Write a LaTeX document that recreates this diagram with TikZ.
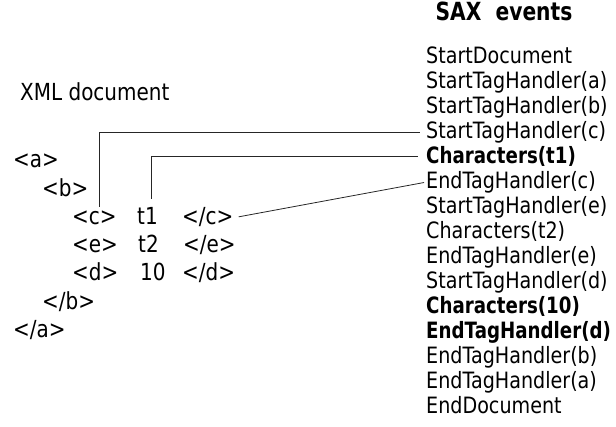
\documentclass[tikz,border=0pt]{standalone}
\usepackage{fontspec}
\setmainfont{DejaVu Sans}[FakeStretch=0.85, BoldFeatures={FakeStretch=0.81}]
\begin{document}
\begin{tikzpicture}[x=1pt,y=1pt,
  ev/.style={anchor=mid west, inner sep=0pt, font=\fontsize{22.5}{26}\selectfont},
  evb/.style={anchor=mid west, inner sep=0pt, font=\fontsize{22.5}{26}\selectfont\bfseries},
  xm/.style={anchor=mid west, inner sep=0pt, font=\fontsize{23.5}{28}\selectfont},
  link/.style={draw=black!85, line width=0.8pt}]
\useasboundingbox (0,0) rectangle (616,427);

% headings
\node[anchor=mid, inner sep=0pt, font=\fontsize{25}{29}\selectfont\bfseries] (saxtitle) at (504,409) {SAX\ \ events};
\node[xm] (xmltitle) at (20,329) {XML document};

% SAX event list
\node[ev]  (e0)  at (426,366) {StartDocument};
\node[ev]  (e1)  at (426,341) {StartTagHandler(a)};
\node[ev]  (e2)  at (426,316) {StartTagHandler(b)};
\node[ev]  (e3)  at (426,291) {StartTagHandler(c)};
\node[evb] (e4)  at (426,266) {Characters(t1)};
\node[ev]  (e5)  at (426,241) {EndTagHandler(c)};
\node[ev]  (e6)  at (426,216) {StartTagHandler(e)};
\node[ev]  (e7)  at (426,191) {Characters(t2)};
\node[ev]  (e8)  at (426,166) {EndTagHandler(e)};
\node[ev]  (e9)  at (426,141) {StartTagHandler(d)};
\node[evb] (e10) at (426,116) {Characters(10)};
\node[evb] (e11) at (426,91)  {EndTagHandler(d)};
\node[ev]  (e12) at (426,66)  {EndTagHandler(b)};
\node[ev]  (e13) at (426,41)  {EndTagHandler(a)};
\node[ev]  (e14) at (426,16)  {EndDocument};

% XML document
\node[xm] (oa)  at (13,262)    {<a>};
\node[xm] (ob)  at (42,233.7)  {<b>};
\node[xm] (oc)  at (72,205.4)  {<c>};
\node[xm] (t1)  at (137,205.4) {t1};
\node[xm] (cc)  at (182,205.4) {</c>};
\node[xm] (oe)  at (72,177)    {<e>};
\node[xm] (t2)  at (138,177)   {t2};
\node[xm] (ce)  at (183,177)   {</e>};
\node[xm] (od)  at (72,149)    {<d>};
\node[xm] (t10) at (140,149)   {10};
\node[xm] (cd)  at (182,149)   {</d>};
\node[xm] (cb)  at (42,120.5)  {</b>};
\node[xm] (ca)  at (13,92)     {</a>};

% connectors
\coordinate (pc) at (99,220);
\coordinate (pt) at (151,228);
\draw[link] (pc) |- ([xshift=-6pt]e3.west);
\draw[link] (pt) |- ([xshift=-8pt]e4.west);
\draw[link] ([xshift=5pt]cc.east) -- ([xshift=-2pt]e5.west);
\end{tikzpicture}
\end{document}
